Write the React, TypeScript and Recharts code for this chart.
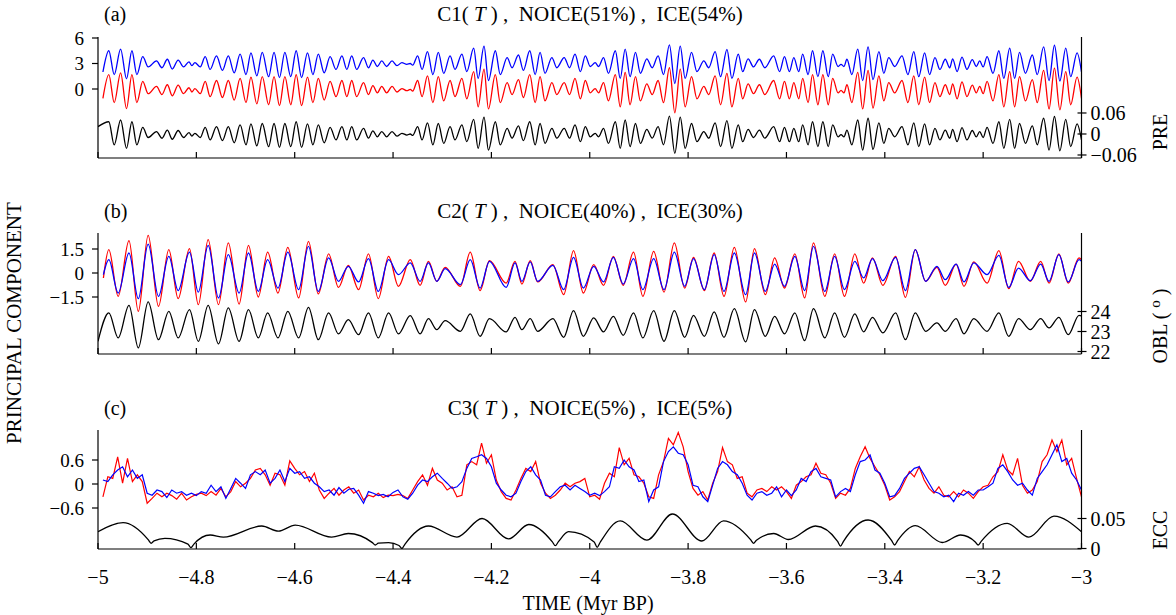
import React from 'react'
import { ComposedChart, Line, XAxis, YAxis } from 'recharts'

const FONT = "'Liberation Serif', 'Times New Roman', serif"
const W = 1176

const timeTicks = [-5, -4.8, -4.6, -4.4, -4.2, -4, -3.8, -3.6, -3.4, -3.2, -3]

// ---- panel (a): PC1 and precession index, peaks/troughs
const preTime = [
  -5.000, -4.990, -4.978, -4.967, -4.954, -4.942, -4.931, -4.921, -4.909, -4.898,
  -4.881, -4.870, -4.859, -4.849, -4.837, -4.826, -4.815, -4.809, -4.803, -4.792,
  -4.782, -4.772, -4.759, -4.747, -4.735, -4.723, -4.711, -4.699, -4.689, -4.677,
  -4.666, -4.653, -4.642, -4.631, -4.620, -4.608, -4.597, -4.586, -4.574, -4.563,
  -4.552, -4.540, -4.528, -4.516, -4.504, -4.494, -4.484, -4.474, -4.460, -4.450,
  -4.441, -4.432, -4.423, -4.413, -4.402, -4.392, -4.382, -4.372, -4.365, -4.360,
  -4.350, -4.341, -4.330, -4.319, -4.308, -4.297, -4.284, -4.274, -4.260, -4.250,
  -4.236, -4.227, -4.215, -4.206, -4.192, -4.182, -4.168, -4.158, -4.145, -4.135,
  -4.122, -4.111, -4.101, -4.091, -4.077, -4.067, -4.052, -4.041, -4.030, -4.019,
  -4.009, -3.999, -3.989, -3.982, -3.972, -3.962, -3.948, -3.938, -3.928, -3.918,
  -3.907, -3.897, -3.884, -3.873, -3.861, -3.850, -3.838, -3.827, -3.816, -3.806,
  -3.793, -3.782, -3.768, -3.758, -3.745, -3.734, -3.721, -3.711, -3.698, -3.689,
  -3.678, -3.667, -3.655, -3.644, -3.626, -3.614, -3.604, -3.594, -3.585, -3.575,
  -3.567, -3.556, -3.547, -3.536, -3.526, -3.515, -3.506, -3.495, -3.489, -3.483,
  -3.477, -3.467, -3.455, -3.445, -3.434, -3.424, -3.412, -3.402, -3.392, -3.380,
  -3.365, -3.353, -3.341, -3.331, -3.319, -3.309, -3.298, -3.288, -3.277, -3.268,
  -3.262, -3.253, -3.243, -3.233, -3.222, -3.214, -3.207, -3.200, -3.192, -3.180,
  -3.168, -3.158, -3.146, -3.136, -3.126, -3.114, -3.100, -3.090, -3.077, -3.066,
  -3.055, -3.044, -3.032, -3.022, -3.009, -3.000,
]
const preIndex = [
  0.021, null, 0.035, -0.031, 0.040, -0.041, 0.035, -0.031, 0.019, -0.010,
  0.007, -0.012, 0.011, -0.015, 0.010, -0.010, 0.004, -0.006, 0.002, -0.010,
  0.019, -0.017, 0.021, -0.019, 0.021, -0.025, 0.026, -0.031, 0.029, -0.034,
  0.030, -0.036, 0.030, -0.038, 0.030, -0.036, 0.035, -0.038, 0.029, -0.031,
  0.026, -0.025, 0.019, -0.017, 0.021, -0.017, 0.021, -0.017, 0.016, -0.012,
  0.009, -0.008, 0.007, -0.008, 0.007, -0.006, 0.002, -0.003, 0.000, -0.004,
  0.021, -0.017, 0.032, -0.031, 0.030, -0.027, 0.021, -0.017, 0.026, -0.022,
  0.042, -0.041, 0.048, -0.046, 0.035, -0.031, 0.016, -0.012, 0.023, -0.019,
  0.035, -0.031, 0.030, -0.027, 0.016, -0.012, 0.016, -0.012, 0.026, -0.022,
  0.021, -0.008, 0.002, -0.008, 0.016, -0.027, 0.035, -0.041, 0.040, -0.036,
  0.030, -0.027, 0.013, -0.012, 0.021, -0.031, 0.051, -0.055, 0.048, -0.041,
  0.030, -0.022, 0.007, -0.012, 0.032, -0.036, 0.038, -0.041, 0.026, -0.022,
  0.013, -0.010, 0.011, -0.012, 0.021, -0.022, 0.019, -0.022, 0.016, -0.022,
  0.026, -0.031, 0.035, -0.036, 0.035, -0.036, 0.026, -0.008, -0.002, -0.008,
  0.011, -0.031, 0.040, -0.046, 0.045, -0.044, 0.032, -0.027, 0.016, -0.008,
  0.021, -0.031, 0.032, -0.036, 0.029, -0.031, 0.016, -0.017, 0.011, -0.012,
  0.013, -0.022, 0.018, -0.017, 0.010, -0.008, 0.007, -0.010, 0.019, -0.027,
  0.035, -0.041, 0.042, -0.041, 0.030, -0.027, 0.023, -0.031, 0.045, -0.046,
  0.050, -0.048, 0.042, -0.036, 0.029, -0.017,
]
const pc1Blue = [
  null, 2.0, 4.5, 1.7, 4.7, 1.2, 4.5, 1.7, 3.8, 2.6,
  3.3, 2.5, 3.5, 2.35, 3.4, 2.6, 3.2, 2.75, 3.1, 2.6,
  3.8, 2.3, 3.9, 2.2, 3.9, 1.9, 4.1, 1.7, 4.25, 1.55,
  4.3, 1.45, 4.3, 1.35, 4.3, 1.45, 4.5, 1.35, 4.25, 1.7,
  4.1, 1.9, 3.8, 2.3, 3.9, 2.3, 3.9, 2.3, 3.7, 2.5,
  3.4, 2.65, 3.3, 2.65, 3.3, 2.75, 3.1, 2.9, 3.0, 2.8,
  3.9, 2.3, 4.4, 1.7, 4.3, 1.85, 3.9, 2.3, 4.1, 2.05,
  4.8, 1.25, 5.05, 1.0, 4.5, 1.7, 3.7, 2.5, 4.0, 2.2,
  4.5, 1.7, 4.3, 1.85, 3.7, 2.5, 3.7, 2.5, 4.1, 2.05,
  3.9, 2.65, 3.1, 2.65, 3.7, 1.85, 4.5, 1.25, 4.7, 1.45,
  4.3, 1.85, 3.55, 2.5, 3.9, 1.7, 5.2, 0.65, 5.05, 1.25,
  4.3, 2.05, 3.3, 2.5, 4.4, 1.45, 4.65, 1.25, 4.1, 2.05,
  3.55, 2.6, 3.5, 2.5, 3.9, 2.05, 3.8, 2.05, 3.7, 2.05,
  4.1, 1.7, 4.5, 1.45, 4.5, 1.45, 4.1, 2.65, 2.9, 2.65,
  3.5, 1.7, 4.7, 1.0, 4.95, 1.1, 4.4, 1.85, 3.7, 2.65,
  3.9, 1.7, 4.4, 1.45, 4.25, 1.7, 3.7, 2.3, 3.5, 2.5,
  3.55, 2.05, 3.75, 2.3, 3.45, 2.65, 3.3, 2.6, 3.8, 1.85,
  4.5, 1.25, 4.8, 1.25, 4.3, 1.85, 4.0, 1.7, 4.95, 1.0,
  5.15, 0.95, 4.8, 1.45, 4.25, 2.0,
]
const pc1Red = [
  null, -1.1, 1.7, -1.6, 1.9, -2.3, 1.7, -1.6, 0.9, -0.55,
  0.3, -0.65, 0.5, -0.8, 0.45, -0.55, 0.15, -0.35, 0.05, -0.55,
  0.9, -0.9, 1.0, -1.0, 1.0, -1.3, 1.25, -1.6, 1.4, -1.75,
  1.45, -1.85, 1.45, -1.95, 1.45, -1.85, 1.7, -1.95, 1.4, -1.6,
  1.25, -1.3, 0.9, -0.9, 1.0, -0.9, 1.0, -0.9, 0.75, -0.65,
  0.4, -0.45, 0.3, -0.45, 0.3, -0.35, 0.05, -0.2, -0.05, -0.25,
  1.0, -0.9, 1.55, -1.6, 1.45, -1.4, 1.0, -0.9, 1.25, -1.15,
  2.05, -2.1, 2.35, -2.35, 1.7, -1.6, 0.75, -0.65, 1.1, -1.0,
  1.7, -1.6, 1.45, -1.4, 0.75, -0.65, 0.75, -0.65, 1.25, -1.15,
  1.0, -0.45, 0.05, -0.45, 0.75, -1.4, 1.7, -2.1, 1.95, -1.85,
  1.45, -1.4, 0.6, -0.65, 1.0, -1.6, 2.5, -2.8, 2.35, -2.1,
  1.45, -1.15, 0.3, -0.65, 1.55, -1.85, 1.85, -2.1, 1.25, -1.15,
  0.6, -0.55, 0.5, -0.65, 1.0, -1.15, 0.9, -1.15, 0.75, -1.15,
  1.25, -1.6, 1.7, -1.85, 1.7, -1.85, 1.25, -0.45, -0.15, -0.45,
  0.5, -1.6, 1.95, -2.35, 2.2, -2.25, 1.55, -1.4, 0.75, -0.45,
  1.0, -1.6, 1.55, -1.85, 1.4, -1.6, 0.75, -0.9, 0.5, -0.65,
  0.6, -1.15, 0.85, -0.9, 0.45, -0.45, 0.3, -0.55, 0.9, -1.4,
  1.7, -2.1, 2.05, -2.1, 1.45, -1.4, 1.1, -1.6, 2.2, -2.35,
  2.45, -2.45, 2.05, -1.85, 1.4, -1.1,
]

// ---- panel (b): PC2 and obliquity (degrees)
const oblTime = [
  -5.000, -4.989, -4.978, -4.959, -4.937, -4.918, -4.898, -4.877, -4.856, -4.837,
  -4.814, -4.796, -4.776, -4.755, -4.735, -4.713, -4.694, -4.674, -4.655, -4.634,
  -4.614, -4.592, -4.572, -4.552, -4.531, -4.511, -4.491, -4.470, -4.450, -4.430,
  -4.409, -4.389, -4.365, -4.345, -4.328, -4.311, -4.294, -4.263, -4.243, -4.223,
  -4.204, -4.170, -4.152, -4.138, -4.121, -4.106, -4.075, -4.053, -4.033, -4.013,
  -3.992, -3.972, -3.952, -3.932, -3.911, -3.892, -3.870, -3.849, -3.828, -3.807,
  -3.789, -3.767, -3.747, -3.727, -3.706, -3.683, -3.665, -3.643, -3.624, -3.604,
  -3.583, -3.563, -3.545, -3.522, -3.502, -3.482, -3.461, -3.443, -3.425, -3.404,
  -3.378, -3.358, -3.338, -3.317, -3.294, -3.277, -3.255, -3.239, -3.219, -3.192,
  -3.168, -3.148, -3.128, -3.104, -3.083, -3.066, -3.046, -3.027, -3.005, -3.000,
]
const oblValue = [
  22.51, null, 23.93, 22.68, 24.31, 22.18, 24.48, 22.59, 24.01, 22.68,
  24.09, 22.51, 24.31, 22.38, 24.18, 22.51, 24.09, 22.68, 23.93, 22.68,
  24.01, 22.68, 24.21, 22.59, 23.93, 22.88, 23.59, 22.84, 23.93, 22.68,
  23.93, 22.88, 23.79, 22.88, 23.64, 23.09, 23.54, 23.01, 23.88, 22.76,
  23.64, 22.98, 23.71, 23.09, 23.64, 23.01, 23.64, 22.71, 24.04, 22.76,
  23.68, 22.98, 23.76, 22.81, 23.93, 22.68, 24.04, 22.51, 24.04, 22.71,
  23.81, 22.76, 23.98, 22.71, 24.14, 22.48, 24.09, 22.76, 23.76, 22.88,
  23.93, 22.54, 24.14, 22.68, 23.93, 22.71, 23.88, 22.98, 23.71, 22.93,
  23.93, 22.59, 23.93, 23.01, 23.43, 23.01, 23.64, 22.88, 23.64, 23.01,
  23.93, 22.76, 23.64, 23.09, 23.64, 23.18, 23.71, 22.84, 23.81, 23.78,
]
const pc2Blue = [
  null, -0.10, 0.83, -1.25, 1.25, -1.60, 1.81, -1.46, 1.04, -1.10,
  1.31, -1.19, 1.73, -1.56, 1.15, -1.25, 1.25, -1.15, 0.83, -0.94,
  1.31, -1.04, 1.67, -1.15, 0.94, -0.52, 0.42, -0.56, 0.90, -1.15,
  0.83, -0.10, 0.63, -0.52, 0.63, -0.52, 0.27, -0.73, 0.83, -0.94,
  0.73, -0.90, 0.63, -0.52, 0.69, -0.52, 0.48, -1.04, 0.98, -0.94,
  0.42, -0.56, 0.98, -0.69, 0.90, -1.04, 0.90, -1.04, 1.31, -0.83,
  0.90, -1.04, 1.15, -1.15, 1.25, -1.35, 1.25, -1.15, 0.56, -0.83,
  1.04, -1.10, 1.67, -1.15, 1.04, -1.04, 0.73, -0.31, 0.90, -0.48,
  0.98, -1.10, 1.46, -0.52, 0.42, -0.42, 0.56, -0.56, 0.63, -0.10,
  1.10, -0.90, 0.31, -0.48, 0.56, -0.52, 1.15, -0.56, 0.83, 0.73,
]
const pc2Red = [
  null, -0.31, 1.46, -1.46, 2.02, -2.40, 2.35, -2.08, 1.46, -1.60,
  1.52, -1.98, 2.08, -1.98, 1.88, -1.94, 1.73, -1.50, 1.31, -1.25,
  1.60, -1.56, 1.98, -1.31, 1.19, -0.90, 0.48, -1.04, 1.19, -1.60,
  1.04, -0.83, 0.83, -0.77, 0.73, -0.52, 0.35, -0.83, 1.31, -1.10,
  0.77, -0.63, 0.73, -0.69, 0.77, -0.56, 0.52, -1.35, 1.40, -1.25,
  0.52, -0.77, 1.04, -0.77, 1.31, -1.46, 1.35, -1.19, 1.88, -0.94,
  0.98, -1.10, 1.25, -1.46, 1.60, -1.81, 1.52, -1.35, 0.94, -0.94,
  1.19, -1.56, 1.88, -1.46, 1.19, -1.46, 1.19, -0.63, 0.94, -0.77,
  1.04, -1.52, 1.46, -0.52, 0.35, -0.77, 0.56, -0.83, 0.69, -0.63,
  1.40, -0.98, 0.73, -0.52, 0.73, -0.63, 1.19, -0.63, 0.94, 0.83,
]

// ---- panel (c): eccentricity and PC3
const eccTime = [
  -5.000, -4.949, -4.898, -4.892, -4.886, -4.864, -4.817, -4.811, -4.805, -4.772,
  -4.745, -4.667, -4.633, -4.599, -4.525, -4.491, -4.442, -4.436, -4.430, -4.409,
  -4.388, -4.382, -4.376, -4.328, -4.270, -4.219, -4.165, -4.124, -4.076, -4.070,
  -4.064, -4.043, -3.991, -3.985, -3.979, -3.938, -3.884, -3.832, -3.772, -3.728,
  -3.673, -3.667, -3.661, -3.626, -3.596, -3.541, -3.496, -3.490, -3.484, -3.434,
  -3.386, -3.380, -3.374, -3.338, -3.283, -3.246, -3.216, -3.210, -3.204, -3.151,
  -3.107, -3.056, -3.000,
]
const eccValue = [
  0.028, 0.043, 0.0147, 0.0087, 0.0127, 0.017, 0.0073, 0.0013, 0.0073, 0.0225,
  0.019, 0.0375, 0.029, 0.039, 0.019, 0.025, 0.0098, 0.0058, 0.0088, 0.0097,
  0.005, 0.000, 0.007, 0.0375, 0.019, 0.050, 0.016, 0.040, 0.011, 0.0047,
  0.011, 0.028, 0.011, 0.002, 0.010, 0.046, 0.014, 0.0575, 0.0125, 0.046,
  0.0147, 0.0087, 0.0137, 0.025, 0.015, 0.0375, 0.012, 0.004, 0.012, 0.0475,
  0.013, 0.0058, 0.013, 0.038, 0.010, 0.0225, 0.011, 0.0058, 0.012, 0.042,
  0.019, 0.054, 0.028,
]
const pc3Time = [
  -4.99, -4.98, -4.97, -4.96, -4.95, -4.94, -4.93, -4.92, -4.91, -4.90,
  -4.89, -4.88, -4.87, -4.86, -4.85, -4.84, -4.83, -4.82, -4.81, -4.80,
  -4.79, -4.78, -4.77, -4.76, -4.75, -4.74, -4.73, -4.72, -4.71, -4.70,
  -4.69, -4.68, -4.67, -4.66, -4.65, -4.64, -4.63, -4.62, -4.61, -4.60,
  -4.59, -4.58, -4.57, -4.56, -4.55, -4.54, -4.53, -4.52, -4.51, -4.50,
  -4.49, -4.48, -4.47, -4.46, -4.45, -4.44, -4.43, -4.42, -4.41, -4.40,
  -4.39, -4.38, -4.37, -4.36, -4.35, -4.34, -4.33, -4.32, -4.31, -4.30,
  -4.29, -4.28, -4.27, -4.26, -4.25, -4.24, -4.23, -4.22, -4.21, -4.20,
  -4.19, -4.18, -4.17, -4.16, -4.15, -4.14, -4.13, -4.12, -4.11, -4.10,
  -4.09, -4.08, -4.07, -4.06, -4.05, -4.04, -4.03, -4.02, -4.01, -4.00,
  -3.99, -3.98, -3.97, -3.96, -3.95, -3.94, -3.93, -3.92, -3.91, -3.90,
  -3.89, -3.88, -3.87, -3.86, -3.85, -3.84, -3.83, -3.82, -3.81, -3.80,
  -3.79, -3.78, -3.77, -3.76, -3.75, -3.74, -3.73, -3.72, -3.71, -3.70,
  -3.69, -3.68, -3.67, -3.66, -3.65, -3.64, -3.63, -3.62, -3.61, -3.60,
  -3.59, -3.58, -3.57, -3.56, -3.55, -3.54, -3.53, -3.52, -3.51, -3.50,
  -3.49, -3.48, -3.47, -3.46, -3.45, -3.44, -3.43, -3.42, -3.41, -3.40,
  -3.39, -3.38, -3.37, -3.36, -3.35, -3.34, -3.33, -3.32, -3.31, -3.30,
  -3.29, -3.28, -3.27, -3.26, -3.25, -3.24, -3.23, -3.22, -3.21, -3.20,
  -3.19, -3.18, -3.17, -3.16, -3.15, -3.14, -3.13, -3.12, -3.11, -3.10,
  -3.09, -3.08, -3.07, -3.06, -3.05, -3.04, -3.03, -3.02, -3.01, -3.00,
]
const pc3Red = [
  -0.32, 0.18, 0.14, 0.68, 0.02, 0.64, 0.06, 0.23, 0.06, -0.48,
  -0.36, -0.23, -0.32, -0.23, -0.29, -0.38, -0.23, -0.40, -0.32, -0.26,
  -0.23, -0.29, -0.19, -0.28, -0.11, -0.32, -0.19, 0.06, -0.07, 0.02,
  0.14, 0.35, 0.39, 0.23, -0.03, 0.27, 0.23, -0.03, 0.58, 0.39,
  0.23, 0.31, 0.06, 0.27, -0.15, -0.36, -0.23, -0.11, -0.28, -0.15,
  -0.07, -0.23, -0.15, -0.40, -0.28, -0.32, -0.23, -0.34, -0.28, -0.29,
  -0.26, -0.29, -0.36, -0.15, 0.06, 0.23, -0.03, 0.39, 0.10, 0.02,
  -0.15, -0.07, -0.32, -0.28, 0.48, 0.56, 0.48, 1.02, 0.52, 0.73,
  0.10, -0.19, -0.36, -0.40, -0.15, 0.14, 0.39, 0.31, 0.56, 0.02,
  -0.23, -0.36, -0.28, -0.15, 0.02, -0.07, 0.02, 0.06, 0.14, -0.32,
  -0.28, -0.38, 0.02, 0.27, 0.18, 0.91, 0.48, 0.64, 0.23, 0.18,
  0.02, -0.32, -0.36, 0.23, 0.56, 1.14, 0.98, 1.29, 0.93, 0.31,
  -0.11, -0.28, -0.19, -0.40, 0.02, 0.31, 0.91, 0.56, 0.48, 0.14,
  0.18, -0.23, -0.32, -0.15, -0.11, -0.19, -0.07, -0.15, -0.07, -0.19,
  -0.36, -0.03, 0.06, 0.18, 0.23, 0.52, 0.27, 0.23, 0.02, -0.36,
  -0.23, -0.28, -0.11, 0.39, 0.68, 0.93, 0.64, 0.43, 0.23, -0.03,
  -0.40, -0.32, -0.19, 0.06, 0.31, 0.18, 0.43, 0.10, -0.11, -0.23,
  -0.07, -0.28, -0.32, -0.19, -0.32, -0.15, -0.23, -0.36, -0.19, -0.07,
  -0.03, 0.18, 0.31, 0.73, 0.35, 0.23, 0.64, -0.03, -0.23, -0.15,
  0.06, 0.56, 0.73, 1.10, 0.81, 1.10, 0.48, 0.64, 0.14, -0.32,
]
const pc3Blue = [
  0.10, 0.06, 0.23, 0.35, 0.43, 0.18, 0.35, 0.14, 0.23, -0.23,
  -0.28, -0.15, -0.19, -0.34, -0.15, -0.23, -0.19, -0.28, -0.23, -0.29,
  -0.19, -0.23, -0.03, -0.19, -0.07, -0.36, -0.11, 0.14, 0.02, -0.11,
  0.23, 0.31, 0.23, 0.35, 0.02, 0.14, 0.35, 0.06, 0.39, 0.27,
  0.31, 0.14, 0.18, 0.02, -0.07, -0.19, -0.15, -0.28, -0.09, -0.23,
  -0.13, -0.11, -0.28, -0.48, -0.19, -0.23, -0.29, -0.26, -0.32, -0.21,
  -0.15, -0.32, -0.38, -0.23, -0.03, 0.10, 0.06, 0.18, 0.27, 0.14,
  0.02, -0.11, -0.07, 0.06, 0.39, 0.64, 0.68, 0.73, 0.64, 0.43,
  0.02, -0.15, -0.28, -0.32, -0.23, 0.06, 0.31, 0.43, 0.23, 0.10,
  -0.28, -0.32, -0.19, -0.07, -0.03, -0.15, -0.03, -0.11, -0.19, -0.28,
  -0.23, -0.29, -0.19, -0.07, 0.43, 0.39, 0.60, 0.43, 0.35, 0.06,
  0.10, -0.44, -0.15, -0.07, 0.56, 0.81, 0.93, 0.77, 0.73, 0.48,
  -0.03, -0.07, -0.32, -0.44, -0.03, 0.39, 0.56, 0.48, 0.31, 0.23,
  0.02, -0.28, -0.40, -0.23, -0.19, -0.28, -0.23, -0.07, -0.32, -0.15,
  -0.29, -0.15, 0.14, 0.06, 0.31, 0.39, 0.18, 0.14, 0.10, -0.32,
  -0.19, -0.11, -0.19, 0.23, 0.56, 0.60, 0.73, 0.35, 0.27, 0.02,
  -0.32, -0.29, -0.11, 0.14, 0.27, 0.39, 0.43, 0.23, 0.02, -0.19,
  -0.23, -0.32, -0.28, -0.44, -0.23, -0.28, -0.19, -0.28, -0.15, -0.15,
  -0.07, 0.02, 0.39, 0.48, 0.31, 0.10, -0.03, 0.02, -0.15, -0.28,
  0.14, 0.31, 0.48, 0.73, 0.98, 0.56, 0.64, 0.27, 0.10, -0.15,
]

const rowsA = preTime.map((t, i) => ({ t, blue: pc1Blue[i], red: pc1Red[i], pre: preIndex[i] }))
const rowsB = oblTime.map((t, i) => ({ t, blue: pc2Blue[i], red: pc2Red[i], obl: oblValue[i] }))
const rowsC = [
  ...eccTime.map((t, i) => ({ t, ecc: eccValue[i] })),
  ...pc3Time.map((t, i) => ({ t, blue: pc3Blue[i], red: pc3Red[i] })),
].sort((a, b) => a.t - b.t)

const fmt = (v: number) => (v < 0 ? '\u2212' : '') + String(Math.abs(Math.round(v * 1000) / 1000))

const axisStroke = { stroke: '#000', strokeWidth: 1.2 }
const tickStyle = { fill: '#000', fontSize: 19, fontFamily: FONT }

// right-hand ticks cross the axis line
function RightTick(props: any) {
  const { x, y, payload } = props
  const ax = x - 9
  return (
    <g>
      <line x1={ax - 4} x2={ax + 5} y1={y} y2={y} stroke="#000" strokeWidth={1.2} />
      <text x={x} y={y} dy="0.35em" textAnchor="start" fill="#000" fontSize={20} fontFamily={FONT}>
        {fmt(payload.value)}
      </text>
    </g>
  )
}

// time ticks point up into the plot; only the lowest panel carries labels
function BottomTick(props: any) {
  const { x, y, payload, labels } = props
  return (
    <g>
      <line x1={x} x2={x} y1={y - 6} y2={y} stroke="#000" strokeWidth={1.2} />
      {labels ? (
        <text x={x} y={y + 35} textAnchor="middle" fill="#000" fontSize={20} fontFamily={FONT}>
          {fmt(payload.value)}
        </text>
      ) : null}
    </g>
  )
}

const margin = (top: number, bottom: number) => ({ top, bottom, left: 38, right: 34.5 })

function timeAxis(labels: boolean, height: number) {
  return (
    <XAxis
      dataKey="t"
      type="number"
      domain={[-5, -3]}
      ticks={timeTicks}
      interval={0}
      allowDataOverflow
      height={height}
      tickSize={0}
      tickMargin={0}
      tick={<BottomTick labels={labels} />}
      tickLine={false}
      axisLine={axisStroke}
    />
  )
}

function leftAxis(domain: number[], ticks: number[]) {
  return (
    <YAxis
      yAxisId="L"
      orientation="left"
      type="number"
      domain={domain}
      ticks={ticks}
      interval={0}
      allowDataOverflow
      width={60}
      tickSize={6}
      tickMargin={8}
      tick={tickStyle}
      tickFormatter={fmt}
      axisLine={axisStroke}
      tickLine={axisStroke}
    />
  )
}

function rightAxis(domain: number[], ticks: number[]) {
  return (
    <YAxis
      yAxisId="R"
      orientation="right"
      type="number"
      domain={domain}
      ticks={ticks}
      interval={0}
      allowDataOverflow
      width={60}
      tickSize={0}
      tickMargin={9}
      tick={<RightTick />}
      tickLine={false}
      axisLine={axisStroke}
    />
  )
}

const lineProps = { dot: false, isAnimationActive: false, connectNulls: true, strokeWidth: 1.3 }

export default function App() {
  return (
    <div style={{ position: 'absolute', left: 0, top: 0, width: W, height: 615, background: '#fff', fontFamily: FONT }}>
      <div style={{ position: 'absolute', left: 0, top: 0 }}>
        <ComposedChart width={W} height={180} data={rowsA} margin={margin(37, 2)}>
          {timeAxis(false, 20)}
          {leftAxis([-8.118, 6.118], [0, 3, 6])}
          {rightAxis([-0.0686, 0.2771], [-0.06, 0, 0.06])}
          <Line {...lineProps} yAxisId="L" type="monotone" dataKey="blue" stroke="#0000ff" />
          <Line {...lineProps} yAxisId="L" type="monotone" dataKey="red" stroke="#ff0000" />
          <Line {...lineProps} yAxisId="R" type="monotone" dataKey="pre" stroke="#000" />
        </ComposedChart>
      </div>
      <div style={{ position: 'absolute', left: 0, top: 190 }}>
        <ComposedChart width={W} height={180} data={rowsB} margin={margin(43, 2)}>
          {timeAxis(false, 14)}
          {leftAxis([-5.0625, 2.5], [-1.5, 0, 1.5])}
          {rightAxis([21.875, 27.925], [22, 23, 24])}
          <Line {...lineProps} yAxisId="L" type="monotone" dataKey="red" stroke="#ff0000" />
          <Line {...lineProps} yAxisId="L" type="monotone" dataKey="blue" stroke="#0000ff" />
          <Line {...lineProps} yAxisId="R" type="monotone" dataKey="obl" stroke="#000" />
        </ComposedChart>
      </div>
      <div style={{ position: 'absolute', left: 0, top: 390 }}>
        <ComposedChart width={W} height={225} data={rowsC} margin={margin(40, 6)}>
          {timeAxis(true, 60)}
          {leftAxis([-1.625, 1.35], [-0.6, 0, 0.6])}
          {rightAxis([-0.00083, 0.1975], [0, 0.05])}
          <Line {...lineProps} yAxisId="L" type="linear" dataKey="red" stroke="#ff0000" strokeWidth={1.2} />
          <Line {...lineProps} yAxisId="L" type="linear" dataKey="blue" stroke="#0000ff" strokeWidth={1.2} />
          <Line {...lineProps} yAxisId="R" type="monotone" dataKey="ecc" stroke="#000" />
        </ComposedChart>
      </div>
      <svg
        width={W}
        height={615}
        style={{ position: 'absolute', left: 0, top: 0, pointerEvents: 'none' }}
        fontFamily={FONT}
        fill="#000"
      >
        <text x={104} y={21} fontSize={20}>(a)</text>
        <text x={590} y={21} fontSize={21} textAnchor="middle" style={{ whiteSpace: 'pre' }}>
          {'C1( '}<tspan fontStyle="italic">T</tspan>{' ) ,  NOICE(51%) ,  ICE(54%)'}
        </text>
        <text x={104} y={218} fontSize={20}>(b)</text>
        <text x={590} y={218} fontSize={21} textAnchor="middle" style={{ whiteSpace: 'pre' }}>
          {'C2( '}<tspan fontStyle="italic">T</tspan>{' ) ,  NOICE(40%) ,  ICE(30%)'}
        </text>
        <text x={104} y={415} fontSize={20}>(c)</text>
        <text x={590} y={415} fontSize={21} textAnchor="middle" style={{ whiteSpace: 'pre' }}>
          {'C3( '}<tspan fontStyle="italic">T</tspan>{' ) ,  NOICE(5%) ,  ICE(5%)'}
        </text>
        <text x={21} y={323} fontSize={21} textAnchor="middle" transform="rotate(-90 21 323)">
          PRINCIPAL COMPONENT
        </text>
        <text x={588} y={610} fontSize={20} textAnchor="middle">TIME (Myr BP)</text>
        <text x={1167} y={132} fontSize={20} textAnchor="middle" transform="rotate(-90 1167 132)">PRE</text>
        <text x={1167} y={326} fontSize={20} textAnchor="middle" transform="rotate(-90 1167 326)" style={{ whiteSpace: 'pre' }}>
          {'OBL ( '}<tspan fontSize={15} dy={-7}>o</tspan><tspan dy={7}>{' )'}</tspan>
        </text>
        <text x={1167} y={530} fontSize={20} textAnchor="middle" transform="rotate(-90 1167 530)">ECC</text>
      </svg>
    </div>
  )
}
